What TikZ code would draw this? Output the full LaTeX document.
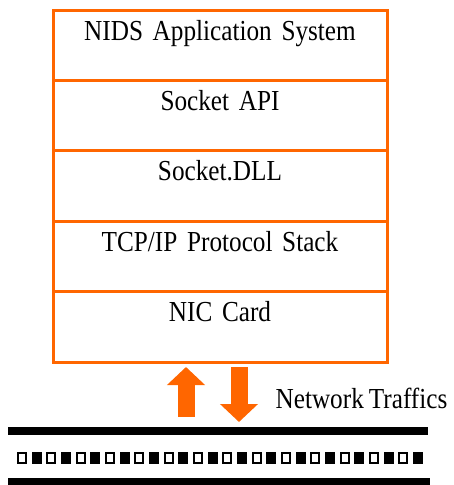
\documentclass[tikz,border=0pt]{standalone}
\usepackage{fontspec}
\setmainfont[FakeStretch=0.87,WordSpace=0.8]{Liberation Serif}
\usetikzlibrary{arrows.meta,positioning}
\definecolor{layerorange}{RGB}{255,102,0}

\begin{document}
\begin{tikzpicture}[x=1pt,y=-1pt,node distance=0pt,font=\fontsize{29}{32}\selectfont]
            \tikzstyle{layer}=[draw=layerorange, line width=3pt, fill=white, inner sep=0pt, outer sep=0pt,
                               text width=334pt, align=center, text height=30pt, text depth=40.4pt]
            \tikzstyle{traffic}=[draw=layerorange, line width=17pt, -{Triangle[width=37pt,length=18pt]}]
            \tikzstyle{wire}=[line width=8pt]

            \useasboundingbox (0,0) rectangle (454,485);

            \node[layer] (app) at (220,10) [anchor=north] {NIDS Application System};
            \node[layer] (api)   [below=of app]   {Socket API};
            \node[layer] (dll)   [below=of api]   {Socket.DLL};
            \node[layer] (tcpip) [below=of dll]   {TCP/IP Protocol Stack};
            \node[layer] (nic)   [below=of tcpip] {NIC Card};

            \coordinate (upfoot) at (186,417);
            \coordinate (dnfoot) at (239,422);
            \draw[traffic] (upfoot) -- ([xshift=-34pt,yshift=-5pt]nic.south);
            \draw[traffic] ([xshift=19pt,yshift=-5pt]nic.south) -- (dnfoot);

            \node (traffics) at (361.5,408) [anchor=base] {Network Traffics};

            % network cable
            \draw[wire] (8,431) -- (428,431);
            \draw[wire] (8,482) -- (430,482);
            \foreach \i in {0,...,27} {
                \ifodd\i
                    \fill (17+\i*14.67,452) rectangle ++(10,12);
                \else
                    \draw[line width=2pt, fill=white] (18+\i*14.67,453) rectangle ++(8,10);
                \fi
            }
        \end{tikzpicture}
\end{document}
